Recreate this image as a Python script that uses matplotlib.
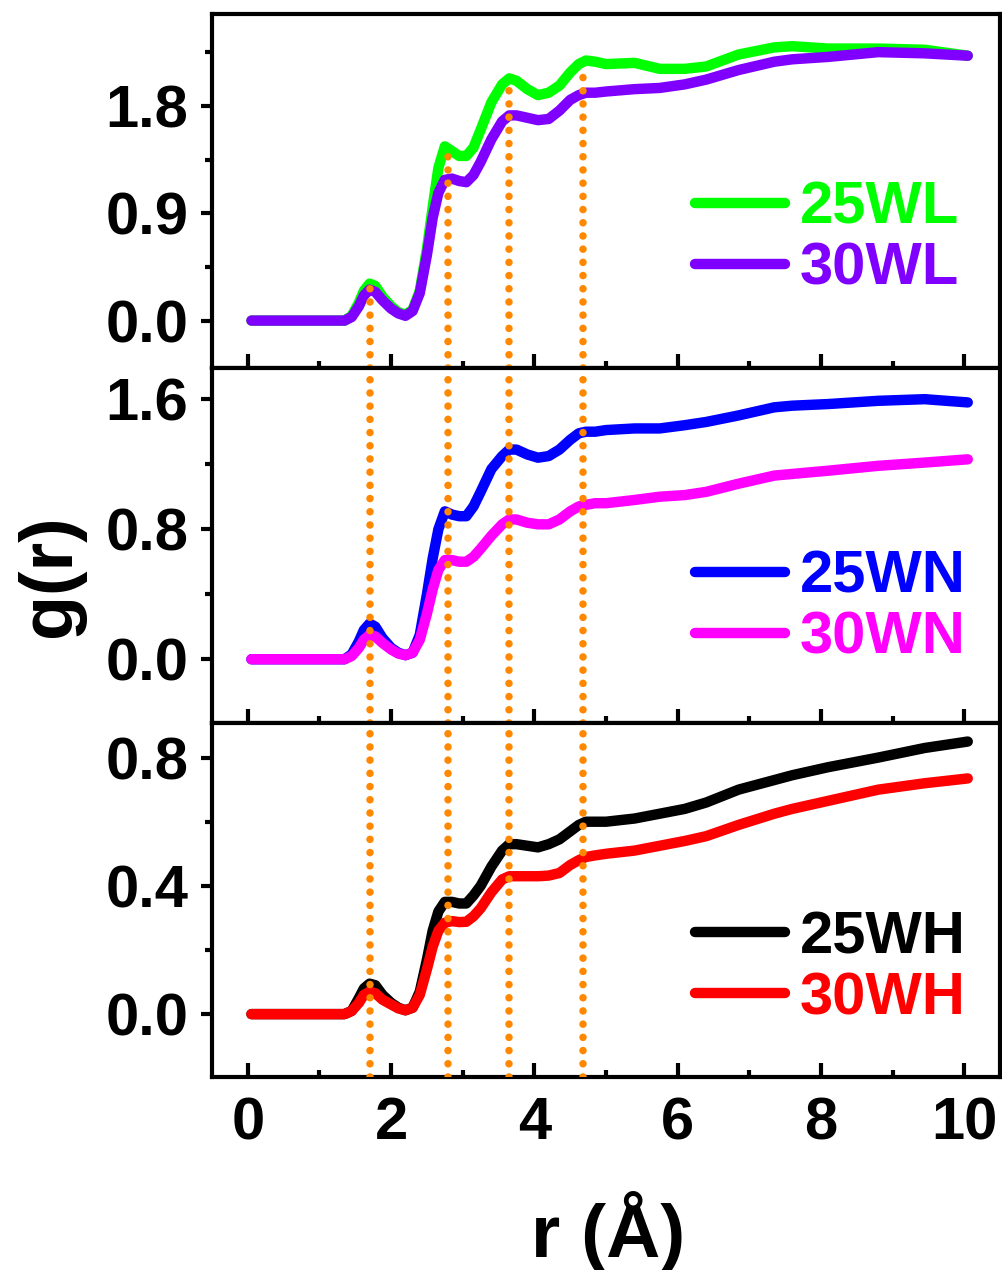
import matplotlib
matplotlib.use("Agg")
import matplotlib.pyplot as plt
from matplotlib.ticker import MultipleLocator

plt.rcParams["font.family"] = ["Liberation Sans", "DejaVu Sans"]
plt.rcParams["font.weight"] = "bold"

# radial distance grid (Angstrom), shared by every curve
R = [0.05, 1.35, 1.45, 1.55, 1.62, 1.7, 1.78, 1.88, 2.0, 2.1, 2.2, 2.3, 2.4,
     2.5, 2.58, 2.66, 2.75, 2.85, 2.95, 3.05, 3.15, 3.25, 3.4, 3.55, 3.65, 3.75,
     3.9, 4.05, 4.2, 4.35, 4.5, 4.62, 4.72, 4.85, 5.0, 5.4, 5.75, 6.1, 6.4, 6.85,
     7.35, 7.6, 8.1, 8.8, 9.45, 10.05]

G_25WL = [0, 0, 0.04, 0.15, 0.25, 0.31, 0.29, 0.20, 0.12, 0.07, 0.05, 0.09, 0.25,
          0.60, 0.95, 1.28, 1.46, 1.42, 1.38, 1.38, 1.45, 1.60, 1.83, 1.98, 2.03, 2.01,
          1.94, 1.89, 1.91, 1.97, 2.08, 2.15, 2.18, 2.17, 2.15, 2.16, 2.11, 2.11, 2.13, 2.23,
          2.29, 2.30, 2.28, 2.28, 2.27, 2.22]
G_30WL = [0, 0, 0.03, 0.12, 0.21, 0.26, 0.24, 0.17, 0.10, 0.06, 0.04, 0.08, 0.23,
          0.55, 0.86, 1.07, 1.18, 1.19, 1.17, 1.16, 1.22, 1.33, 1.52, 1.67, 1.72, 1.72,
          1.70, 1.68, 1.69, 1.76, 1.85, 1.89, 1.91, 1.91, 1.92, 1.94, 1.95, 1.98, 2.02, 2.10,
          2.17, 2.19, 2.21, 2.25, 2.24, 2.22]

G_25WN = [0, 0, 0.03, 0.11, 0.18, 0.22, 0.20, 0.13, 0.07, 0.04, 0.025, 0.04, 0.15,
          0.40, 0.62, 0.80, 0.91, 0.89, 0.88, 0.88, 0.94, 1.03, 1.17, 1.25, 1.29, 1.29,
          1.26, 1.24, 1.25, 1.29, 1.35, 1.39, 1.40, 1.40, 1.41, 1.42, 1.42, 1.44, 1.46, 1.50,
          1.55, 1.56, 1.57, 1.59, 1.60, 1.58]
G_30WN = [0, 0, 0.02, 0.07, 0.12, 0.15, 0.14, 0.10, 0.06, 0.035, 0.025, 0.04, 0.12,
          0.28, 0.43, 0.55, 0.61, 0.61, 0.60, 0.60, 0.63, 0.68, 0.76, 0.83, 0.86, 0.86,
          0.84, 0.83, 0.83, 0.86, 0.91, 0.94, 0.95, 0.96, 0.96, 0.98, 1.00, 1.01, 1.03, 1.08,
          1.13, 1.14, 1.16, 1.19, 1.21, 1.23]

G_25WH = [0, 0, 0.01, 0.05, 0.08, 0.095, 0.09, 0.06, 0.035, 0.02, 0.012, 0.02, 0.07,
          0.17, 0.26, 0.32, 0.35, 0.35, 0.345, 0.345, 0.37, 0.40, 0.46, 0.51, 0.53, 0.53,
          0.525, 0.52, 0.53, 0.545, 0.57, 0.59, 0.60, 0.60, 0.60, 0.61, 0.625, 0.64, 0.66, 0.70,
          0.73, 0.745, 0.77, 0.80, 0.83, 0.85]
G_30WH = [0, 0, 0.01, 0.035, 0.06, 0.07, 0.065, 0.045, 0.03, 0.018, 0.012, 0.02, 0.06,
          0.14, 0.21, 0.26, 0.285, 0.29, 0.287, 0.288, 0.305, 0.33, 0.38, 0.42, 0.43, 0.43,
          0.43, 0.43, 0.432, 0.44, 0.465, 0.48, 0.49, 0.495, 0.50, 0.51, 0.525, 0.54, 0.555, 0.59,
          0.625, 0.64, 0.665, 0.70, 0.72, 0.735]

# peak positions marked across all panels, and where the marker starts in the top panel
PEAK_R = [1.7, 2.8, 3.65, 4.68]
PEAK_TOP = [0.36, 1.47, 2.03, 2.14]

PANELS = [
    (("25WL", G_25WL, "#00ff00"), ("30WL", G_30WL, "#8000ff"),
     (-0.4, 2.57), [0.0, 0.9, 1.8], 0.45, 0.365),
    (("25WN", G_25WN, "#0000ff"), ("30WN", G_30WN, "#ff00ff"),
     (-0.39, 1.79), [0.0, 0.8, 1.6], 0.4, 0.324),
    (("25WH", G_25WH, "#000000"), ("30WH", G_30WH, "#ff0000"),
     (-0.196, 0.909), [0.0, 0.4, 0.8], 0.2, 0.307),
]

DOT_COLOR = "#ff8800"
DOT_LW = 5.4
DOT_STYLE = (0, (0.01, 1.75))
FS = 43

fig = plt.figure(figsize=(10.03, 12.70), dpi=100)
gs = fig.add_gridspec(3, 1, left=0.2114, right=0.997, top=0.989, bottom=0.152, hspace=0)

for i, (s1, s2, ylim, yticks, yminor, leg_y) in enumerate(PANELS):
    ax = fig.add_subplot(gs[i])
    for name, vals, col in (s1, s2):
        ax.plot(R, vals, color=col, lw=7.5, solid_capstyle="round",
                solid_joinstyle="round", label=name)

    ax.set_xlim(-0.5, 10.5)
    ax.set_ylim(*ylim)

    # dotted peak markers; in the top panel they start at the 25WL peaks
    for xp, top in zip(PEAK_R, PEAK_TOP):
        y1 = top if i == 0 else ylim[1]
        ax.plot([xp, xp], [ylim[0], y1], color=DOT_COLOR, lw=DOT_LW, ls=DOT_STYLE,
                dash_capstyle="round", zorder=3)

    ax.set_yticks(yticks)
    ax.set_yticklabels([f"{v:.1f}" for v in yticks])
    ax.yaxis.set_minor_locator(MultipleLocator(yminor))
    ax.xaxis.set_major_locator(MultipleLocator(2))
    ax.xaxis.set_minor_locator(MultipleLocator(1))

    ax.tick_params(axis="y", which="major", direction="out", length=8, width=3,
                   labelsize=FS, pad=9)
    ax.tick_params(axis="y", which="minor", direction="out", length=5, width=3)
    ax.tick_params(axis="x", which="major", direction="in", length=10, width=3,
                   labelsize=FS, pad=14)
    ax.tick_params(axis="x", which="minor", direction="in", length=5, width=3)
    if i < 2:
        ax.tick_params(axis="x", labelbottom=False)

    for sp in ax.spines.values():
        sp.set_linewidth(3)

    leg = ax.legend(loc="center left", bbox_to_anchor=(0.613, leg_y),
                    frameon=False, fontsize=FS, handlelength=1.5,
                    handletextpad=0.25, labelspacing=0.1, borderpad=0,
                    borderaxespad=0, labelcolor="linecolor")
    for t in leg.get_texts():
        t.set_fontweight("bold")

fig.text(0.05, 0.547, "g(r)", rotation=90, ha="center", va="center",
         fontsize=53, fontweight="bold")
fig.text(0.606, 0.0102, "r (Å)", ha="center", va="baseline",
         fontsize=54, fontweight="bold")

fig.savefig("out.png", dpi=100)
